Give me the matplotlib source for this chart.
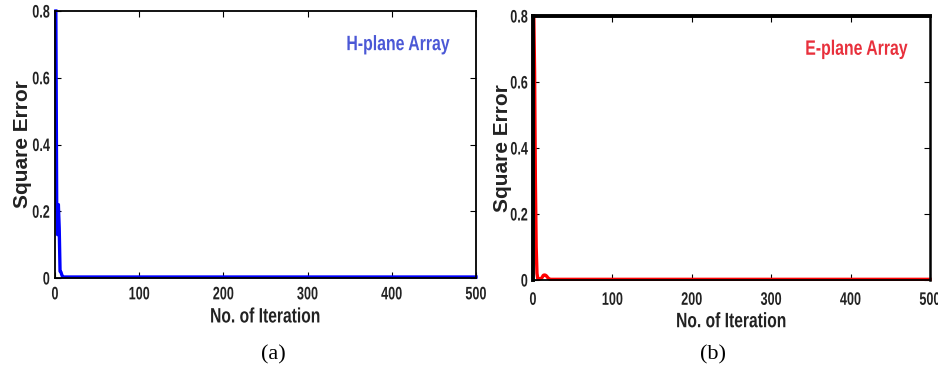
import numpy as np
import matplotlib.pyplot as plt
from matplotlib.patheffects import AbstractPathEffect
from matplotlib.transforms import Affine2D

plt.rcParams['font.family'] = ['Liberation Sans', 'DejaVu Sans']

n_iter = 500
# first iterations, the rest sits on the floor
h_early = [0.80, 0.22, 0.13, 0.22, 0.15, 0.02, 0.018, 0.01, 0.004]
h_floor = 0.003
e_early = [0.80, 0.63, 0.30, 0.10, 0.02, 0.004, 0.003, 0.003, 0.004, 0.004,
           0.006, 0.010, 0.014, 0.015, 0.015, 0.014, 0.012, 0.009, 0.006,
           0.004, 0.003]
e_floor = 0.002

it = np.arange(1, n_iter + 1)
h_err = np.array(h_early + [h_floor] * (n_iter - len(h_early)))
e_err = np.array(e_early + [e_floor] * (n_iter - len(e_early)))

xticks = [0, 100, 200, 300, 400, 500]
yticks = [0, 0.2, 0.4, 0.6, 0.8]
yticklabels = ['0', '0.2', '0.4', '0.6', '0.8']


class Squeeze(AbstractPathEffect):
    # narrow the text horizontally (the source figure looks condensed)
    def __init__(self, sx, anchor='center'):
        super().__init__()
        self.sx = sx
        self.anchor = anchor

    def draw_path(self, renderer, gc, tpath, affine, rgbFace=None):
        ext = tpath.get_extents(affine)
        x0 = ext.x1 if self.anchor == 'right' else 0.5 * (ext.x0 + ext.x1)
        aff = affine + Affine2D().translate(-x0, 0).scale(self.sx, 1).translate(x0, 0)
        renderer.draw_path(gc, tpath, aff, rgbFace)


fig = plt.figure(figsize=(9.38, 3.69), dpi=100)
ax1 = fig.add_axes([55 / 938, 1 - 278 / 369, 421 / 938, 267 / 369])
ax2 = fig.add_axes([533 / 938, 1 - 280 / 369, 397 / 938, 264 / 369])

panels = [
    (ax1, h_err, 'blue', 'H-plane Array', '#4b58d6', 6, -0.146, -0.078),
    (ax2, e_err, 'red', 'E-plane Array', '#e8303c', 8.5, -0.158, -0.076),
]
for ax, err, col, name, tcol, xpad, xl_y, yl_x in panels:
    ax.plot(it, err, color=col, lw=2.4, clip_on=False)
    ax.set_xlim(0, 500)
    ax.set_ylim(0, 0.8)
    ax.set_xticks(xticks)
    ax.set_yticks(yticks)
    ax.set_yticklabels(yticklabels)
    ax.tick_params(direction='in', top=True, right=True, length=4, width=0.8,
                   labelsize=13, labelcolor='#222222')
    ax.tick_params(axis='x', pad=xpad)
    for lab in ax.get_xticklabels():
        lab.set_fontweight('bold')
        lab.set_path_effects([Squeeze(0.7)])
    for lab in ax.get_yticklabels():
        lab.set_fontweight('bold')
        lab.set_path_effects([Squeeze(0.7, 'right')])
    for s in ax.spines.values():
        s.set_linewidth(1.3)
    ax.set_xlabel('No. of Iteration', fontsize=15, fontweight='bold',
                  color='#222222', va='center')
    ax.xaxis.set_label_coords(0.5, xl_y)
    ax.xaxis.label.set_path_effects([Squeeze(0.75)])
    ax.set_ylabel('Square Error', fontsize=15, fontweight='bold',
                  color='#222222', va='center')
    ax.yaxis.set_label_coords(yl_x, 0.5)
    ax.text(0.815, 0.874, name, transform=ax.transAxes, color=tcol, fontsize=15,
            fontweight='bold', ha='center', va='center',
            path_effects=[Squeeze(0.76)])

ax2.spines['top'].set_linewidth(2.8)
ax2.spines['left'].set_linewidth(2.8)
ax2.spines['right'].set_linewidth(1.8)

fig.text(273 / 938, 1 - 355 / 369, '(a)', ha='center', va='center',
         fontsize=16, family='Liberation Serif')
fig.text(713 / 938, 1 - 355 / 369, '(b)', ha='center', va='center',
         fontsize=16, family='Liberation Serif')

fig.savefig('out.png', dpi=100)
